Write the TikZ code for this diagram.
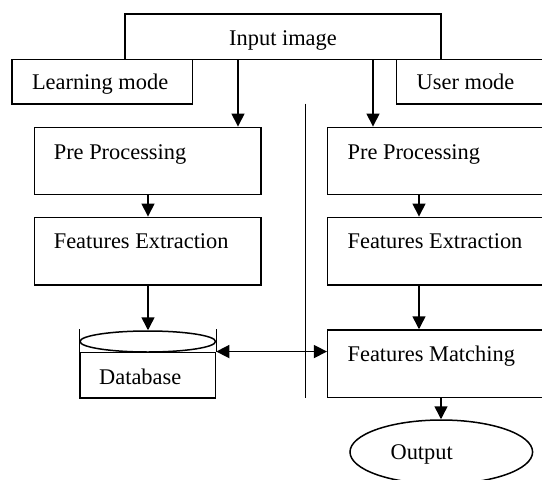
\documentclass[tikz,border=0pt]{standalone}
\usepackage{fontspec}
\setmainfont{Liberation Serif}
\usetikzlibrary{arrows.meta,shapes.geometric}
\begin{document}
\begin{tikzpicture}[x=1pt,y=-1pt,
  box/.style={draw, line width=1.5pt, inner sep=0pt, rectangle},
  oval/.style={draw, line width=1.5pt, inner sep=0pt, ellipse},
  txt/.style={inner sep=0pt, anchor=base west, font=\fontsize{22.4}{26}\selectfont},
  arr/.style={line width=1.5pt, -{Triangle[length=13pt,width=13pt]}},
  darr/.style={line width=1.5pt, {Triangle[length=13pt,width=13pt]}-{Triangle[length=13pt,width=13pt]}},
  ln/.style={line width=1.5pt},
  ]
\useasboundingbox (0,0) rectangle (542,480);
\clip (0,0) rectangle (542,480);

% boxes
\node[box, minimum width=316pt, minimum height=45.5pt] (inp) at (283,36.75) {};
\node[box, minimum width=180.5pt, minimum height=44.5pt] (lmode) at (102.25,81.75) {};
\node[box, minimum width=151.5pt, minimum height=44.5pt] (umode) at (472.25,81.75) {};
\node[box, minimum width=226.4pt, minimum height=67.4pt] (lpp) at (147.8,161) {};
\node[box, minimum width=226.4pt, minimum height=67.7pt] (lfe) at (147.8,251.15) {};
\node[box, minimum width=220.3pt, minimum height=67.4pt] (rpp) at (437.85,161) {};
\node[box, minimum width=220.3pt, minimum height=67.7pt] (rfe) at (437.85,251.15) {};
\node[box, minimum width=220.3pt, minimum height=67.7pt] (fm) at (437.85,363.85) {};
% database
\node[box, minimum width=135.5pt, minimum height=45.7pt] (db) at (147.75,375.15) {};
\node[oval, minimum width=135.5pt, minimum height=21pt] (dbtop) at (147.75,341.5) {};
\draw[ln] (db.north west) -- ++(0,-23);
\draw[ln] (db.north east) -- ++(0,-23);
% output
\node[oval, minimum width=182.6pt, minimum height=64pt] (out) at (441.3,452) {};

% divider
\coordinate (d1) at (305.5,103.5);
\coordinate (d2) at (305.5,398);
\draw[ln] (d1) -- (d2);

% texts
\node[txt, anchor=base] (tinp) at (283,45.7) {Input image};
\node[txt] (tlm) at (31.8,89.3) {Learning mode};
\node[txt] (tum) at (416.5,89.3) {User mode};
\node[txt] (tlpp) at (53.6,159.3) {Pre Processing};
\node[txt] (tlfe) at (53.6,248) {Features Extraction};
\node[txt] (trpp) at (347.4,159.3) {Pre Processing};
\node[txt] (trfe) at (347.4,248) {Features Extraction};
\node[txt] (tfm) at (347.4,361) {Features Matching};
\node[txt] (tdb) at (99,384.7) {Database};
\node[txt, anchor=base] (tout) at (421.7,459) {Output};

% connectors
\coordinate (xa) at (238,0);
\coordinate (xb) at (373,0);
\coordinate (xc) at (148,0);
\coordinate (xd) at (419,0);
\coordinate (xe) at (441,0);
\draw[arr] (inp.south -| xa) -- (lpp.north -| xa);
\draw[arr] (inp.south -| xb) -- (rpp.north -| xb);
\draw[arr] (lpp.south -| xc) -- (lfe.north -| xc);
\draw[arr] (rpp.south -| xd) -- (rfe.north -| xd);
\draw[arr] (lfe.south -| xc) -- (dbtop.north -| xc);
\draw[arr] (rfe.south -| xd) -- (fm.north -| xd);
\draw[darr] (db.north east) -- (db.north east -| fm.west);
\draw[arr] (fm.south -| xe) -- (out.north -| xe);
\end{tikzpicture}
\end{document}
